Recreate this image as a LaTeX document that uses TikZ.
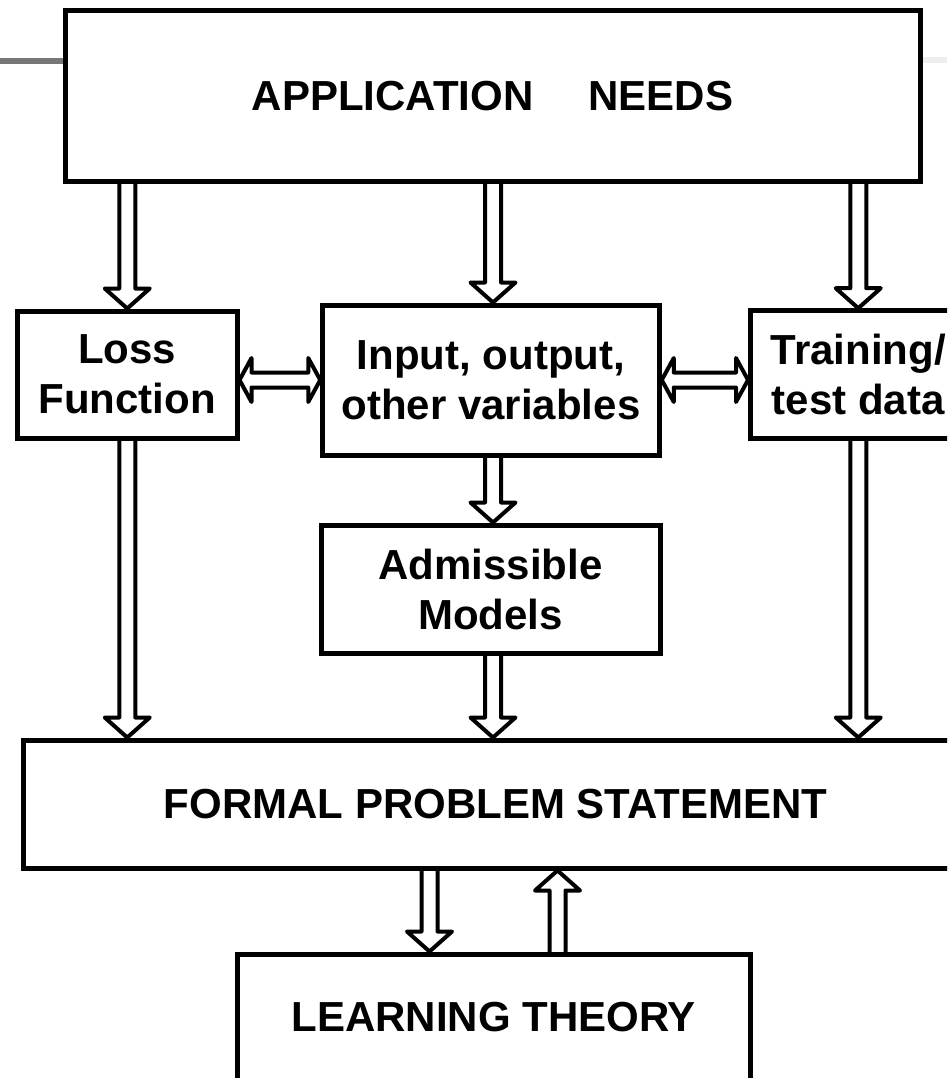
\documentclass[tikz,border=0pt]{standalone}
\usepackage{fontspec}
\setmainfont{Liberation Sans}
\usetikzlibrary{calc}

\definecolor{rulegray}{RGB}{119,119,119}
\definecolor{rulelight}{RGB}{238,238,238}

\tikzset{
  box/.style={draw, rectangle, line width=5pt, inner sep=0pt, align=center,
    font=\fontsize{42}{50}\selectfont\bfseries},
  arrowline/.style={draw, line width=4pt, line join=round, line cap=round},
}

% hollow block arrow from #1 to the tip #2 (open at the tail)
\newcommand\fatarrow[2]{%
  \path ($(#2)!20pt!(#1)$) coordinate (neck);
  \draw[arrowline] ($(#1)!8pt!90:(#2)$) -- ($(neck)!8pt!90:(#2)$)
    -- ($(neck)!22.5pt!90:(#2)$) -- (#2) -- ($(neck)!22.5pt!-90:(#2)$)
    -- ($(neck)!8pt!-90:(#2)$) -- ($(#1)!8pt!-90:(#2)$);
}
% hollow double-headed block arrow between the tips #1 and #2
\newcommand\fatdouble[2]{%
  \path ($(#1)!12pt!(#2)$) coordinate (nl) ($(#2)!12pt!(#1)$) coordinate (nr);
  \draw[arrowline] (#1) -- ($(nl)!22pt!90:(#2)$) -- ($(nl)!7.5pt!90:(#2)$)
    -- ($(nr)!7.5pt!-90:(#1)$) -- ($(nr)!22pt!-90:(#1)$) -- (#2)
    -- ($(nr)!22pt!90:(#1)$) -- ($(nr)!7.5pt!90:(#1)$)
    -- ($(nl)!7.5pt!-90:(#2)$) -- ($(nl)!22pt!-90:(#2)$) -- cycle;
}

\begin{document}
\begin{tikzpicture}[x=1pt,y=-1pt]
\useasboundingbox (0,0) rectangle (947,1078);
\clip (0,0) rectangle (947,1078);

% boxes
\node[box, minimum width=855pt, minimum height=171.5pt] (app) at (492.5,96.25)
  {APPLICATION\hspace{55pt}NEEDS};
\node[box, minimum width=219.5pt, minimum height=127.5pt] (loss) at (127.25,374.75)
  {Loss\\Function};
\node[box, minimum width=336.5pt, minimum height=150pt] (io) at (491,380)
  {Input, output,\\other variables};
\node[box, minimum width=215.5pt, minimum height=127.8pt] (train) at (858.25,374.6)
  {Training/\\test data};
\node[box, minimum width=339pt, minimum height=128.5pt] (adm) at (490.5,589.25)
  {Admissible\\Models};
\node[box, minimum width=945pt, minimum height=128pt] (formal) at (495.5,804)
  {FORMAL PROBLEM STATEMENT};
\node[box, minimum width=512.5pt, minimum height=126pt] (learn) at (493.75,1017)
  {LEARNING THEORY};

% header rules
\draw[rulegray, line width=6pt] (0,61) -- (app.west |- 0,61);
\draw[rulelight, line width=6pt] (app.east |- 0,60) -- (947,60);

% arrow columns
\coordinate (midcol) at (493,0);
\coordinate (dncol) at (429.5,0);
\coordinate (upcol) at (557.5,0);

% connectors
\fatarrow{app.south -| loss.north}{loss.north}
\fatarrow{app.south -| midcol}{io.north -| midcol}
\fatarrow{app.south -| train.north}{train.north}
\fatdouble{loss.east |- io.west}{io.west}
\fatdouble{io.east}{train.west |- io.east}
\fatarrow{io.south -| midcol}{adm.north -| midcol}
\fatarrow{loss.south}{formal.north -| loss.south}
\fatarrow{adm.south -| midcol}{formal.north -| midcol}
\fatarrow{train.south}{formal.north -| train.south}
\fatarrow{formal.south -| dncol}{learn.north -| dncol}
\fatarrow{learn.north -| upcol}{formal.south -| upcol}
\end{tikzpicture}
\end{document}
